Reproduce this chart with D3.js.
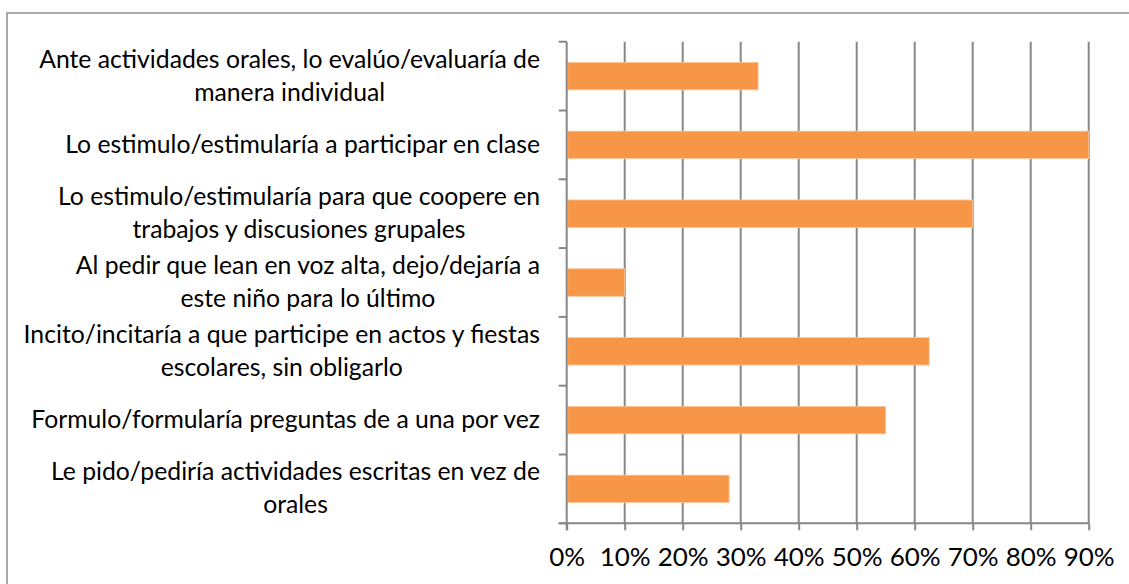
<!DOCTYPE html>
<html>
<head>
<meta charset="utf-8">
<script src="https://cdn.jsdelivr.net/npm/d3@7"></script>
<style>
  html, body { margin: 0; padding: 0; background: #fff; }
  svg { display: block; }
</style>
</head>
<body>
<div id="chart"></div>
<script>
// ---- data ----
const categories = [
  "Ante actividades orales, lo evalúo/evaluaría de manera individual",
  "Lo estimulo/estimularía a participar en clase",
  "Lo estimulo/estimularía para que coopere en trabajos y discusiones grupales",
  "Al pedir que lean en voz alta, dejo/dejaría a este niño para lo último",
  "Incito/incitaría a que participe en actos y fiestas escolares, sin obligarlo",
  "Formulo/formularía preguntas de a una por vez",
  "Le pido/pediría actividades escritas en vez de orales"
];
const labelLines = [
  ["Ante actividades orales, lo evalúo/evaluaría de", "manera individual"],
  ["Lo estimulo/estimularía a participar en clase"],
  ["Lo estimulo/estimularía para que coopere en", "trabajos y discusiones grupales"],
  ["Al pedir que lean en voz alta, dejo/dejaría a", "este niño para lo último"],
  ["Incito/incitaría a que participe en actos y fiestas", "escolares, sin obligarlo"],
  ["Formulo/formularía preguntas de a una por vez"],
  ["Le pido/pediría actividades escritas en vez de", "orales"]
];
const values = [33, 90, 70, 10, 62.5, 55, 28];
const xTicks = [0, 10, 20, 30, 40, 50, 60, 70, 80, 90];

// ---- layout ----
const W = 1129, H = 584;
const plot = { left: 566.7, right: 1088.7, top: 41.7, bottom: 523.3 };
const FONT = "Lato, 'Open Sans', 'Noto Sans', sans-serif";

const svg = d3.select("#chart").append("svg")
  .attr("width", W).attr("height", H);

// outer frame
svg.append("rect")
  .attr("x", 7).attr("y", 13)
  .attr("width", 1140).attr("height", 600)
  .attr("fill", "#fff").attr("stroke", "#8c8c8c").attr("stroke-width", 1.5);

const x = d3.scaleLinear().domain([0, 90]).range([plot.left, plot.right]);
const y = d3.scaleBand().domain(d3.range(categories.length))
  .range([plot.top, plot.bottom]).paddingInner(0.6).paddingOuter(0.3);
const yb = d3.scaleBand().domain(d3.range(categories.length))
  .range([plot.top, plot.bottom]);

// measure font size to fit reference width
const probe = svg.append("text").attr("font-family", FONT).attr("font-size", 20)
  .text(labelLines[0][0]);
const w20 = probe.node().getComputedTextLength();
probe.remove();
const fs = Math.min(26, Math.max(16, 20 * 501 / w20));

// gridlines
svg.append("g").selectAll("line")
  .data(xTicks.filter(d => d > 0))
  .join("line")
  .attr("x1", d => x(d)).attr("x2", d => x(d))
  .attr("y1", plot.top).attr("y2", plot.bottom)
  .attr("stroke", "#878787").attr("stroke-width", 2);

// bars
svg.append("g").selectAll("rect")
  .data(values)
  .join("rect")
  .attr("x", x(0) + 1)
  .attr("y", (d, i) => y(i))
  .attr("width", d => x(d) - x(0) - 1)
  .attr("height", y.bandwidth())
  .attr("fill", "#F79646")
  .attr("stroke", "#FBC9A0")
  .attr("stroke-width", 0.8);

// bottom axis
const xAxis = d3.axisBottom(x).tickValues(xTicks).tickFormat(d => d + "%")
  .tickSize(7).tickSizeOuter(0);
const gx = svg.append("g").attr("transform", `translate(0,${plot.bottom})`).call(xAxis);
gx.select(".domain").attr("stroke", "#878787").attr("stroke-width", 2)
  .attr("d", `M${plot.left - 8},0H${plot.right}`);
gx.selectAll(".tick line").attr("stroke", "#878787").attr("stroke-width", 2);
gx.selectAll(".tick text")
  .attr("font-family", FONT).attr("font-size", fs * 1.05)
  .attr("fill", "#000").attr("y", 0).attr("dy", 0)
  .attr("transform", "translate(0,42.7)");

// left axis
const tickYs = d3.range(categories.length + 1).map(i => plot.top + i * yb.step());
const gy = svg.append("g");
gy.append("line")
  .attr("x1", plot.left).attr("x2", plot.left)
  .attr("y1", plot.top).attr("y2", plot.bottom + 7)
  .attr("stroke", "#878787").attr("stroke-width", 2);
gy.selectAll("line.tk").data(tickYs).join("line").attr("class", "tk")
  .attr("x1", plot.left - 8).attr("x2", plot.left)
  .attr("y1", d => d).attr("y2", d => d)
  .attr("stroke", "#878787").attr("stroke-width", 2);

// category labels (multi-line centered, block right-aligned)
const lineH = 33;
const labelRight = 540;
labelLines.forEach((lines, i) => {
  const cy = yb(i) + yb.bandwidth() / 2;
  const g = svg.append("g");
  const texts = lines.map((ln, j) => g.append("text")
    .attr("font-family", FONT).attr("font-size", fs).attr("fill", "#000")
    .attr("text-anchor", "middle")
    .attr("y", cy + 8 + (j - (lines.length - 1) / 2) * lineH)
    .text(ln));
  const maxW = d3.max(texts, t => t.node().getComputedTextLength());
  texts.forEach(t => t.attr("x", labelRight - maxW / 2));
});
</script>
</body>
</html>
